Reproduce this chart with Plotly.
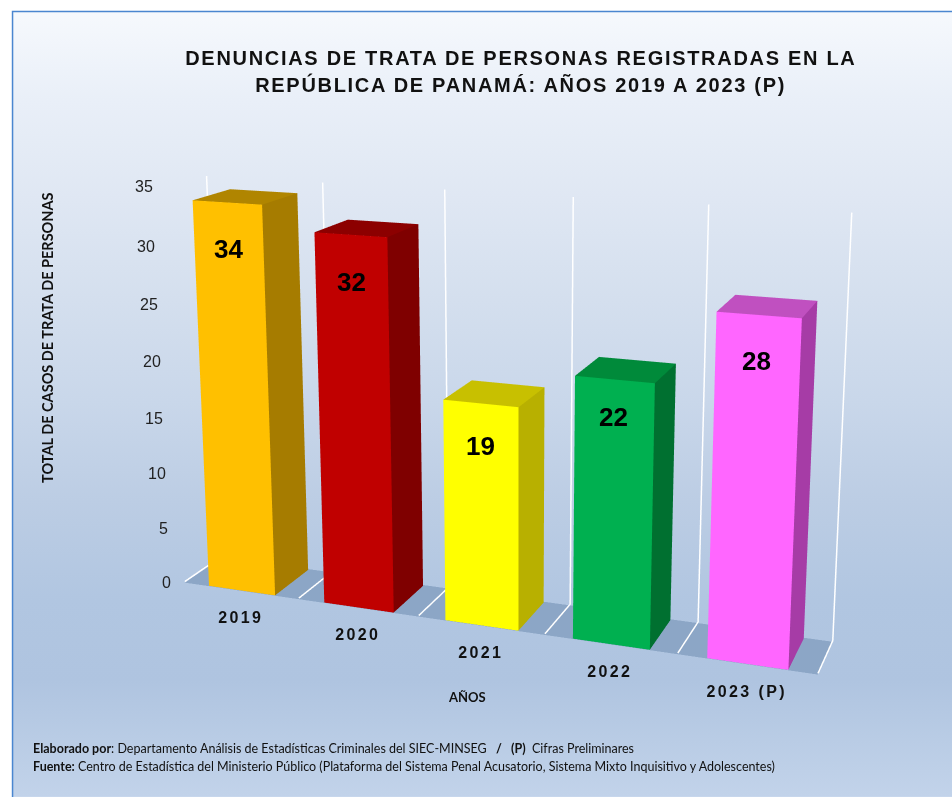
import base64, json
import numpy as np
import plotly.graph_objects as go

years = ["2019", "2020", "2021", "2022", "2023 (P)"]
values = [34, 32, 19, 22, 28]
front_colors = ["#FFC000", "#C00000", "#FFFF00", "#00B050", "#FF66FF"]
side_colors = ["#A67C00", "#7F0000", "#B8B000", "#007030", "#A63CA6"]
top_colors = ["#B08500", "#8C0000", "#C8C000", "#008A3A", "#C050C0"]
z_ticks = [0, 5, 10, 15, 20, 25, 30, 35]

W, H = 952, 797
# The reference uses a long lens that a 797 px tall scene cannot give, so the
# figure is larger than the window and is shifted so the window shows the chart.
PPX, PPY, FOC = 515.4593, 317.5844, 1740.0392
FH = int(round(2 * FOC * np.tan(np.pi / 8)))
FW = int(np.ceil(2 * max(PPX, W - PPX)))
OX = FW / 2 - PPX
OY = FH / 2 - PPY
xp = lambda px: (px + OX) / FW
yp = lambda py: 1 - (py + OY) / FH

BAR_X0, BAR_X1, BAR_Y0, BAR_Y1 = 0.2134, 0.7928, 0.0098, 0.9674
FLAT = dict(ambient=1, diffuse=0, specular=0, fresnel=0)

fig = go.Figure()
fig.add_trace(go.Mesh3d(x=[0, 5, 5, 0], y=[0, 0, 1, 1], z=[0, 0, 0, 0], i=[0, 0], j=[1, 2], k=[2, 3],
                        color="#8CA6C6", flatshading=True, lighting=FLAT, hoverinfo="skip"))
gx, gy, gz = [], [], []
for i in range(len(values) + 1):
    gx += [i, i, i, None]
    gy += [0, 1, 1, None]
    gz += [0.1, 0.1, z_ticks[-1], None]
fig.add_trace(go.Scatter3d(x=gx, y=gy, z=gz, mode="lines", line=dict(color="white", width=3), hoverinfo="skip"))
for i, v in enumerate(values):
    x0, x1 = i + BAR_X0, i + BAR_X1
    y0, y1 = BAR_Y0, BAR_Y1
    fig.add_trace(go.Mesh3d(
        x=[x0, x1, x1, x0, x0, x1, x1, x0], y=[y0, y0, y1, y1, y0, y0, y1, y1], z=[0, 0, 0, 0, v, v, v, v],
        i=[0, 0, 1, 1, 4, 4], j=[1, 5, 2, 6, 5, 6], k=[5, 4, 6, 5, 6, 7],
        facecolor=[front_colors[i]] * 2 + [side_colors[i]] * 2 + [top_colors[i]] * 2,
        flatshading=True, lighting=FLAT, hoverinfo="skip"))

label_shift = [1, 1, 5, 12, 6]
scene_notes = []
for i, v in enumerate(values):
    scene_notes.append(dict(x=i + .5, y=BAR_Y0, z=v - 4, text=f"<b>{v}</b>", showarrow=False, yshift=label_shift[i],
                            font=dict(family="Liberation Sans", size=26, color="black")))
    scene_notes.append(dict(x=i + .5, y=0, z=0, text=f"<b>{years[i]}</b>", showarrow=False, yshift=-27,
                            font=dict(family="Liberation Sans", size=16, color="#111")))
for v in z_ticks:
    scene_notes.append(dict(x=0, y=0, z=v, text=str(v), showarrow=False, xanchor="right", xshift=-12,
                            font=dict(family="Liberation Sans", size=16, color="#222")))

bg = [(11, "#f6f9fd"), (100, "#e9eff8"), (200, "#dfe7f3"), (300, "#d4dfee"), (400, "#c9d7ea"), (500, "#bccde4"),
      (600, "#b1c6e1"), (680, "#afc4e0"), (740, "#b9cce5"), (797, "#c2d3ea")]
svg = f'<svg xmlns="http://www.w3.org/2000/svg" width="{W}" height="{H}"><defs><linearGradient id="g" gradientUnits="userSpaceOnUse" x1="0" y1="0" x2="0" y2="{H}">'
svg += "".join(f'<stop offset="{y/H:.4f}" stop-color="{c}"/>' for y, c in bg)
svg += f'</linearGradient></defs><rect width="{W}" height="{H}" fill="white"/><rect x="12" y="11" width="{W-12}" height="{H-11}" fill="url(#g)"/></svg>'
src = "data:image/svg+xml;base64," + base64.b64encode(svg.encode()).decode()


def note(px, py, text, size, family="Liberation Sans", color="#111", xanchor="center", **kw):
    return dict(text=text, xref="paper", yref="paper", x=xp(px), y=yp(py), showarrow=False,
                xanchor=xanchor, yanchor="middle", font=dict(family=family, size=size, color=color), **kw)


T1 = "DENUNCIAS DE TRATA DE PERSONAS REGISTRADAS EN LA"
T2 = "REPÚBLICA DE PANAMÁ: AÑOS 2019 A 2023 (P)"
notes = [
    note(521, 58, f"<b>{T1}</b>", 20),
    note(520, 85, f"<b>{T2}</b>", 20),
    note(48, 338, "<b>TOTAL DE CASOS DE TRATA DE PERSONAS</b>", 14.5, "Lato", textangle=-90),
    note(467, 697, "<b>AÑOS</b>", 13, "Lato"),
    note(31, 749, "<b>Elaborado por</b>: Departamento Análisis de Estadísticas Criminales del SIEC-MINSEG  <b> /   (P)</b>  Cifras Preliminares", 12.5, "Lato", xanchor="left"),
    note(31, 767, "<b>Fuente:</b> Centro de Estadística del Ministerio Público (Plataforma del Sistema Penal Acusatorio, Sistema Mixto Inquisitivo y Adolescentes)", 12.5, "Lato", xanchor="left"),
]

fig.update_layout(
    scene=dict(
        xaxis=dict(range=[0, 5], visible=False),
        yaxis=dict(range=[0, 1], visible=False),
        zaxis=dict(range=[0, 35], visible=False),
        aspectmode="manual", aspectratio=dict(x=1, y=0.1188, z=0.6294),
        camera=dict(eye=dict(x=0.8656, y=-2.3049, z=0.7135), center=dict(x=-0.1769, y=0.5806, z=0),
                    up=dict(x=-0.0012, y=0, z=1)),
        domain=dict(x=[0, 1], y=[0, 1]), bgcolor="rgba(0,0,0,0)", annotations=scene_notes),
    width=FW, height=FH, margin=dict(l=0, r=0, t=0, b=0), paper_bgcolor="white", showlegend=False, hovermode=False,
    annotations=notes,
    images=[dict(source=src, xref="paper", yref="paper", x=xp(0), y=yp(0), sizex=W / FW, sizey=H / FH,
                 xanchor="left", yanchor="top", sizing="stretch", layer="below")],
    shapes=[dict(type="rect", xref="paper", yref="paper", x0=xp(12.5), x1=xp(960), y0=yp(11.5), y1=yp(810),
                 line=dict(color="#4A86D0", width=1.5), layer="below")],
)
post = """
var gd=document.getElementById('{plot_id}');
document.documentElement.style.overflow='hidden';document.body.style.overflow='hidden';document.body.style.margin='0';
gd.style.position='fixed';gd.style.left='%gpx';gd.style.top='%gpx';
var spaced=%s;
function sp(){document.querySelectorAll('.annotation text, .annotation-text').forEach(function(e){var s=spaced[e.textContent];if(s){e.style.letterSpacing=s;}});}
sp();setInterval(sp,150);
""" % (-OX, -OY, json.dumps({T1: "1.7px", T2: "1.7px", **{y: "2.4px" for y in years}}))
fig.write_html("out.html", post_script=post, config=dict(displayModeBar=False))
